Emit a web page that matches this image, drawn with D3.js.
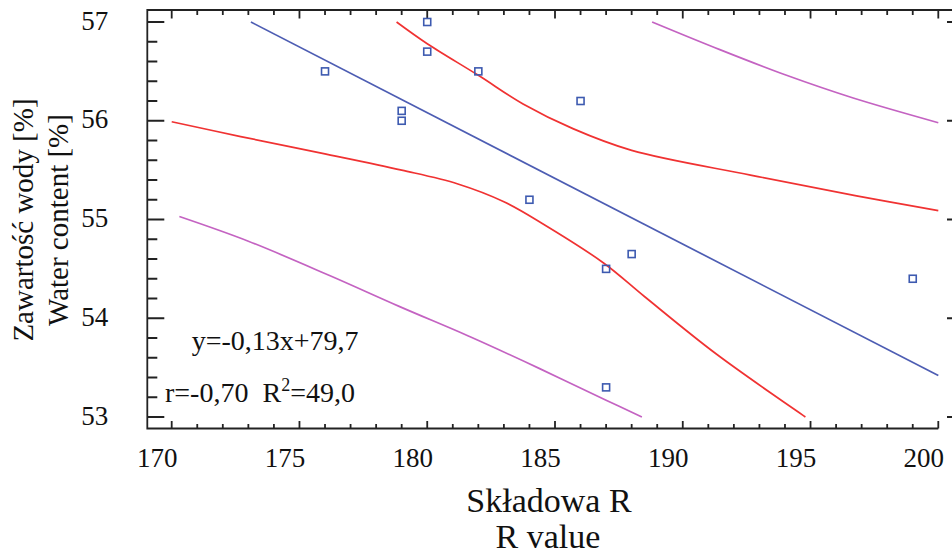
<!DOCTYPE html>
<html lang="pl">
<head>
  <meta charset="UTF-8">
  <title>Zawartość wody vs Składowa R</title>
  <script src="https://cdn.jsdelivr.net/npm/d3@7"></script>
  <style>
    body { margin: 0; background: #fff; }
    svg { display: block; font-family: "Liberation Serif", "DejaVu Serif", serif; }
    .title { font-size: 34px; fill: #111; text-anchor: middle; }
    .ytitle { font-size: 29px; fill: #111; text-anchor: middle; }
    .note { font-size: 28px; fill: #111; white-space: pre; }
  </style>
</head>
<body>
  <svg id="chart" width="952" height="555"></svg>
  <script>
    // pomiary: składowa R i zawartość wody
    const rValues     = [176, 179, 179, 180, 180, 182, 184, 186, 187, 187, 188, 199];
    const waterValues = [56.5, 56.1, 56.0, 57.0, 56.7, 56.5, 55.2, 56.2, 54.5, 53.3, 54.65, 54.4];

    // linia regresji i pasma
    const fitLine   = [[173.1, 57.0], [200, 53.42]];
    const confUpper = [[178.8, 57.0], [180, 56.78], [182, 56.46], [183.75, 56.17], [185.7, 55.92],
                       [188, 55.70], [192.65, 55.45], [196.8, 55.24], [200, 55.09]];
    const confLower = [[170, 55.99], [172.7, 55.84], [175.9, 55.67], [179, 55.50], [181.2, 55.36],
                       [183, 55.18], [184.5, 54.96], [186.9, 54.56], [188.5, 54.22], [191.3, 53.64], [194.8, 53.0]];
    const predUpper = [[188.8, 57.0], [191.45, 56.72], [194.06, 56.46], [196.67, 56.23], [200, 55.98]];
    const predLower = [[170.3, 55.03], [173, 54.78], [176.2, 54.43], [178.9, 54.12], [181.7, 53.81],
                       [184.4, 53.49], [187, 53.17], [188.4, 53.0]];

    const xTicks = [170, 175, 180, 185, 190, 195, 200];
    const yTicks = [53, 54, 55, 56, 57];
    const xMinor = [170, 171, 172, 173, 174, 175, 176, 177, 178, 179, 180, 181, 182, 183, 184, 185,
                    186, 187, 188, 189, 190, 191, 192, 193, 194, 195, 196, 197, 198, 199, 200];
    const yMinor = [53, 53.2, 53.4, 53.6, 53.8, 54, 54.2, 54.4, 54.6, 54.8, 55, 55.2, 55.4, 55.6, 55.8,
                    56, 56.2, 56.4, 56.6, 56.8, 57];

    const frameL = 147.3, frameR = 964, frameT = 10, frameB = 428.5;
    const ink = '#222';

    const svg = d3.select('#chart');
    const x = d3.scaleLinear().domain([170, 200]).range([171.7, 938.3]);
    const y = d3.scaleLinear().domain([53, 57]).range([417, 22]);

    // ramka i podziałka w jednej ścieżce
    const p = d3.path();
    p.moveTo(frameR, frameT);
    p.lineTo(frameL, frameT);
    p.lineTo(frameL, frameB);
    p.lineTo(x(200), frameB);
    xMinor.forEach(v => {
      const major = xTicks.includes(v);
      const px = x(v);
      p.moveTo(px, frameB);
      p.lineTo(px, frameB - (major ? 7.5 : 4.5));
      p.moveTo(px, frameT);
      p.lineTo(px, frameT + (major ? 8.5 : 5));
    });
    yMinor.forEach(v => {
      const major = yTicks.includes(v);
      const py = y(v);
      const len = major ? 17 : 10;
      p.moveTo(frameL, py);
      p.lineTo(frameL + len, py);
      p.moveTo(frameR - len, py);
      p.lineTo(frameR, py);
    });
    svg.append('path')
      .attr('d', p.toString())
      .attr('fill', 'none')
      .attr('stroke', ink)
      .attr('stroke-width', 1.8);

    // etykiety osi (d3.axis, bez kresek)
    function axis(gen, tx, ty) {
      const g = svg.append('g').attr('transform', `translate(${tx},${ty})`).call(gen);
      g.attr('font-family', null).attr('font-size', null);
      g.select('.domain').remove();
      g.selectAll('.tick line').remove();
      g.selectAll('.tick text').attr('fill', '#111').attr('font-size', 27);
      return g;
    }
    const gx = axis(d3.axisBottom(x).tickValues(xTicks).tickSize(0).tickPadding(19).tickFormat(d3.format('d')), 0, frameB);
    gx.selectAll('text').attr('dx', -15);
    const gy = axis(d3.axisLeft(y).tickValues(yTicks).tickSize(0).tickPadding(39).tickFormat(d3.format('d')), frameL, 0);
    gy.selectAll('text').attr('dy', '0.26em');

    // krzywe
    const line = d3.line().x(d => x(d[0])).y(d => y(d[1])).curve(d3.curveCatmullRom);
    const curves = [
      { data: predUpper, color: '#c463c2' },
      { data: predLower, color: '#c463c2' },
      { data: confUpper, color: '#f03232' },
      { data: confLower, color: '#f03232' },
      { data: fitLine,   color: '#4d5db3' }
    ];
    curves.forEach(c => {
      svg.append('path')
        .attr('d', line(c.data))
        .attr('fill', 'none')
        .attr('stroke', c.color)
        .attr('stroke-width', 1.7);
    });

    // punkty pomiarowe
    svg.append('g').selectAll('rect')
      .data(rValues.map((r, i) => [r, waterValues[i]]))
      .join('rect')
        .attr('x', d => x(d[0]) - 3.5)
        .attr('y', d => y(d[1]) - 3.5)
        .attr('width', 7)
        .attr('height', 7)
        .attr('fill', 'none')
        .attr('stroke', '#3d5ab0')
        .attr('stroke-width', 1.6);

    // równanie i współczynniki
    svg.append('text').attr('class', 'note').attr('x', 191.7).attr('y', 350).text('y=-0,13x+79,7');
    const note2 = svg.append('text').attr('class', 'note').attr('x', 165).attr('y', 401.7);
    note2.append('tspan').text('r=-0,70  R');
    note2.append('tspan').attr('font-size', '18px').attr('dy', -11).text('2');
    note2.append('tspan').attr('dy', 11).text('=49,0');

    // tytuły osi
    svg.append('text').attr('class', 'title').attr('x', 549).attr('y', 511.7).text('Składowa R');
    svg.append('text').attr('class', 'title').attr('x', 548).attr('y', 548).text('R value');

    const yt = svg.append('g').attr('transform', 'translate(0,220) rotate(-90)');
    yt.append('text').attr('class', 'ytitle').attr('x', 0).attr('y', 33).text('Zawartość wody [%]');
    yt.append('text').attr('class', 'ytitle').attr('x', 0).attr('y', 68).text('Water content [%]');
  </script>
</body>
</html>
